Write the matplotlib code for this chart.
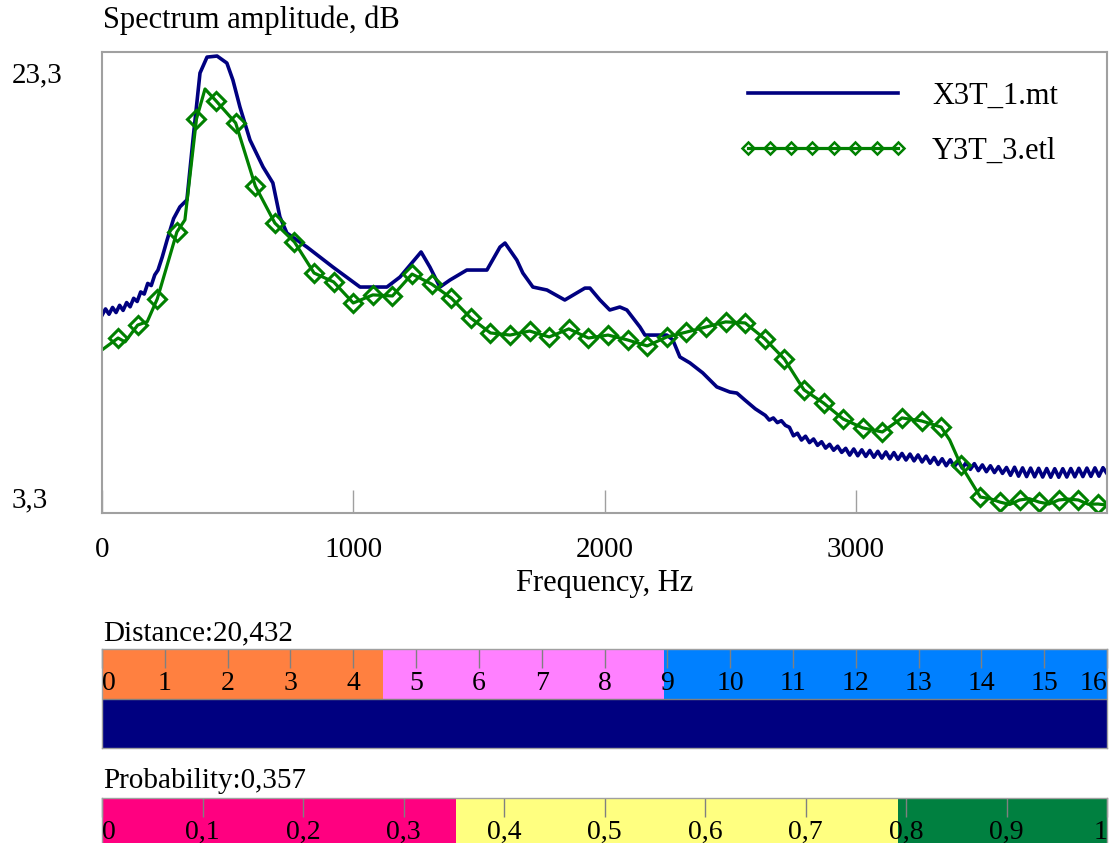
import matplotlib
matplotlib.use("Agg")
import matplotlib.pyplot as plt
from matplotlib.lines import Line2D

plt.rcParams['font.family'] = ['Liberation Serif', 'DejaVu Serif']

# ---- spectrum X3T_1.mt (blue) ----
blue_hz = [0, 14, 28, 42, 56, 70, 84, 98, 112, 126, 140, 154, 168, 182, 196, 210, 223,
           240, 259, 285, 310, 338, 362, 390, 418, 458, 497, 521, 549, 589, 641, 680,
           708, 736, 816, 919, 1027, 1134, 1186, 1270, 1305, 1345, 1385, 1452, 1532,
           1584, 1604, 1651, 1675, 1715, 1771, 1842, 1922, 1942, 1982, 2021, 2061,
           2089, 2141, 2161, 2248, 2272, 2300, 2340, 2391, 2447, 2499, 2527, 2559, 2600,
           2640, 2656, 2672, 2688, 2704, 2720, 2736, 2752, 2768, 2784,
           2800, 2816, 2832, 2848, 2864, 2880, 2896, 2912, 2928, 2944,
           2960, 2976, 2992, 3008, 3024, 3040, 3056, 3072, 3088, 3104,
           3120, 3136, 3152, 3168, 3184, 3200, 3216, 3232, 3248, 3264,
           3280, 3296, 3312, 3328, 3344, 3360, 3376, 3392, 3408, 3424,
           3440, 3456, 3472, 3488, 3504, 3520, 3536, 3552, 3568, 3584,
           3600, 3616, 3632, 3648, 3664, 3680, 3696, 3712, 3728, 3744,
           3760, 3776, 3792, 3808, 3824, 3840, 3856, 3872, 3888, 3904,
           3920, 3936, 3952, 3968, 3984, 4000]
blue_db = [11.85, 12.15, 11.90, 12.22, 11.98, 12.32, 12.08, 12.45, 12.25, 12.65, 12.50,
           12.95, 12.85, 13.35, 13.25, 13.75, 13.98,
           14.60, 15.39, 16.40, 16.95, 17.28, 20.10, 23.25, 24.00, 24.05, 23.72, 22.92,
           21.65, 20.10, 18.83, 18.08, 16.48, 15.72, 15.06, 14.12, 13.18, 13.18, 13.65,
           14.83, 14.12, 13.18, 13.51, 13.98, 13.98, 15.06, 15.25, 14.45, 13.84, 13.18,
           13.04, 12.57, 13.13, 13.13, 12.57, 12.10, 12.24, 12.10, 11.30, 10.92, 10.92,
           10.69, 9.89, 9.61, 9.14, 8.48, 8.24, 8.19, 7.86, 7.45,
           7.14, 6.92, 7.02, 6.80, 6.89, 6.67, 6.58, 6.18, 6.30, 5.98,
           6.16, 5.86, 6.03, 5.73, 5.90, 5.60, 5.78, 5.50, 5.69, 5.40,
           5.59, 5.27, 5.56, 5.24, 5.52, 5.21, 5.49, 5.17, 5.45, 5.13,
           5.42, 5.10, 5.39, 5.07, 5.35, 5.04, 5.32, 5.00, 5.28, 4.95,
           5.22, 4.89, 5.16, 4.83, 5.10, 4.77, 5.05, 4.72, 4.99, 4.66,
           4.93, 4.60, 4.87, 4.54, 4.81, 4.49, 4.77, 4.45, 4.73, 4.41,
           4.69, 4.32, 4.70, 4.28, 4.67, 4.26, 4.66, 4.25, 4.65, 4.24,
           4.64, 4.23, 4.63, 4.23, 4.63, 4.24, 4.64, 4.25, 4.65, 4.26,
           4.66, 4.27, 4.67, 4.28, 4.68, 4.40]

# ---- spectrum Y3T_3.etl (green): diamond points and extra line vertices ----
green_mark_hz = [64, 142, 220, 298, 376, 454, 532, 610, 688, 766, 844, 922, 1000,
                 1078, 1156, 1234, 1312, 1390, 1468, 1546, 1624, 1702, 1780, 1858,
                 1936, 2014, 2092, 2170, 2248, 2326, 2404, 2482, 2560, 2638, 2716,
                 2794, 2872, 2950, 3028, 3106, 3184, 3262, 3340, 3418, 3496, 3574,
                 3652, 3730, 3808, 3886, 3964]
green_mark_db = [10.78, 11.39, 12.62, 15.77, 21.09, 21.94, 20.90, 17.94, 16.19, 15.30,
                 13.84, 13.42, 12.43, 12.81, 12.76, 13.79, 13.32, 12.66, 11.72, 11.02,
                 10.92, 11.11, 10.83, 11.21, 10.78, 10.92, 10.69, 10.41, 10.83, 11.06,
                 11.30, 11.54, 11.49, 10.74, 9.79, 8.34, 7.72, 6.97, 6.55, 6.36,
                 7.02, 6.88, 6.59, 4.81, 3.30, 3.06, 3.16, 3.06, 3.16, 3.16, 2.97]
green_extra_hz = [0, 92, 180, 330, 410, 3374, 3535, 3613, 3691, 3769, 3847, 3925, 4000]
green_extra_db = [10.22, 10.60, 11.55, 16.34, 22.50, 5.98, 3.22, 2.95, 3.22, 2.97,
                  3.20, 2.96, 2.92]

series_names = ['X3T_1.mt', 'Y3T_3.etl']

# ---- indicator scales ----
dist_value = 20.432
dist_edges = [0, 4.47, 8.94, 16]
dist_colors = ['#ff8040', '#ff80ff', '#0080ff']
dist_ticks = [0, 1, 2, 3, 4, 5, 6, 7, 8, 9, 10, 11, 12, 13, 14, 15, 16]
dist_labels = [str(t) for t in dist_ticks]

prob_value = 0.357
prob_edges = [0, 0.352, 0.792, 1.0]
prob_colors = ['#ff0080', '#ffff80', '#008040']
prob_ticks = [0, 0.1, 0.2, 0.3, 0.4, 0.5, 0.6, 0.7, 0.8, 0.9, 1.0]
prob_labels = ['0', '0,1', '0,2', '0,3', '0,4', '0,5', '0,6', '0,7', '0,8', '0,9', '1']

BLUE = '#000080'
GREEN = '#008000'
GREY = '#a0a0a0'
W, H = 1109, 843

fig = plt.figure(figsize=(W / 100, H / 100), dpi=100)


def px_box(left, top, right, bottom):
    return [left / W, 1 - bottom / H, (right - left) / W, (bottom - top) / H]


# main spectrum plot
ax = fig.add_axes(px_box(102, 52, 1107, 513))
ax.plot(blue_hz, blue_db, color=BLUE, lw=2.6)

pts = sorted(zip(green_mark_hz + green_extra_hz, green_mark_db + green_extra_db))
ax.plot([p[0] for p in pts], [p[1] for p in pts], color=GREEN, lw=2.3)
ax.plot(green_mark_hz, green_mark_db, ls='none', marker='D', ms=9,
        mfc='none', mec=GREEN, mew=2.2)

ax.set_xlim(0, 4000)
ax.set_ylim(2.547, 24.24)
ax.set_xticks([0, 1000, 2000, 3000])
ax.set_xticklabels(['0', '1000', '2000', '3000'])
ax.tick_params(axis='x', direction='in', length=16.5, width=1, color=GREY,
               labelsize=21, pad=17)
ax.set_yticks([3.3, 23.3])
ax.set_yticklabels(['3,3', '23,3'])
ax.tick_params(axis='y', length=0, pad=65, labelsize=21)
for lab in ax.get_yticklabels():
    lab.set_horizontalalignment('left')
for s in ax.spines.values():
    s.set_color(GREY)
    s.set_linewidth(1.5)

ax.set_xlabel('Frequency, Hz', fontsize=22)
ax.xaxis.label.set_verticalalignment('center')
ax.xaxis.set_label_coords(0.5, -0.152)

fig.text(103 / W, 1 - 20 / H, 'Spectrum amplitude, dB', fontsize=22, va='center')

h1 = Line2D([], [], color=BLUE, lw=2.6)
h2 = Line2D([], [], color=GREEN, lw=2.3, marker='D', ms=6.5, mfc='none', mew=1.8)
ax.legend([h1, h2], series_names, loc='upper left',
          bbox_to_anchor=(739 / W, 1 - 82 / H), bbox_transform=fig.transFigure,
          frameon=False, fontsize=22, handlelength=5.5, handletextpad=0.82,
          labelspacing=0.85, numpoints=8, borderpad=0, borderaxespad=0)


def draw_scale(bax, edges, colors, value, ticks, labels):
    vmax = ticks[-1]
    for lo, hi, c in zip(edges[:-1], edges[1:], colors):
        bax.barh(1.5, hi - lo, left=lo, height=1, color=c)
    bax.barh(0.5, min(value, vmax), left=0, height=1, color=BLUE)
    bax.set_xlim(0, vmax)
    bax.set_ylim(0, 2)
    bax.set_xticks(ticks)
    bax.tick_params(axis='x', bottom=False, top=True, labelbottom=False,
                    direction='in', length=14, width=1, color='#808080')
    bax.set_yticks([])
    for t, lab in zip(ticks, labels):
        ha = 'left' if t == ticks[0] else ('right' if t == ticks[-1] else 'center')
        bax.text(t, 1.3, lab, ha=ha, va='center', fontsize=20)
    bax.axhline(1, color='#808080', lw=1)
    for s in bax.spines.values():
        s.set_color(GREY)
        s.set_linewidth(1)


# distance scale
dax = fig.add_axes(px_box(102, 649, 1107, 748))
draw_scale(dax, dist_edges, dist_colors, dist_value, dist_ticks, dist_labels)
fig.text(103 / W, 1 - 633 / H, 'Distance:' + f'{dist_value:.3f}'.replace('.', ','),
         fontsize=21, va='center')

# probability scale (runs off the bottom edge)
pax = fig.add_axes(px_box(102, 798, 1107, 897))
draw_scale(pax, prob_edges, prob_colors, prob_value, prob_ticks, prob_labels)
fig.text(103 / W, 1 - 781 / H, 'Probability:' + f'{prob_value:.3f}'.replace('.', ','),
         fontsize=21, va='center')

fig.savefig('out.png', dpi=100)
